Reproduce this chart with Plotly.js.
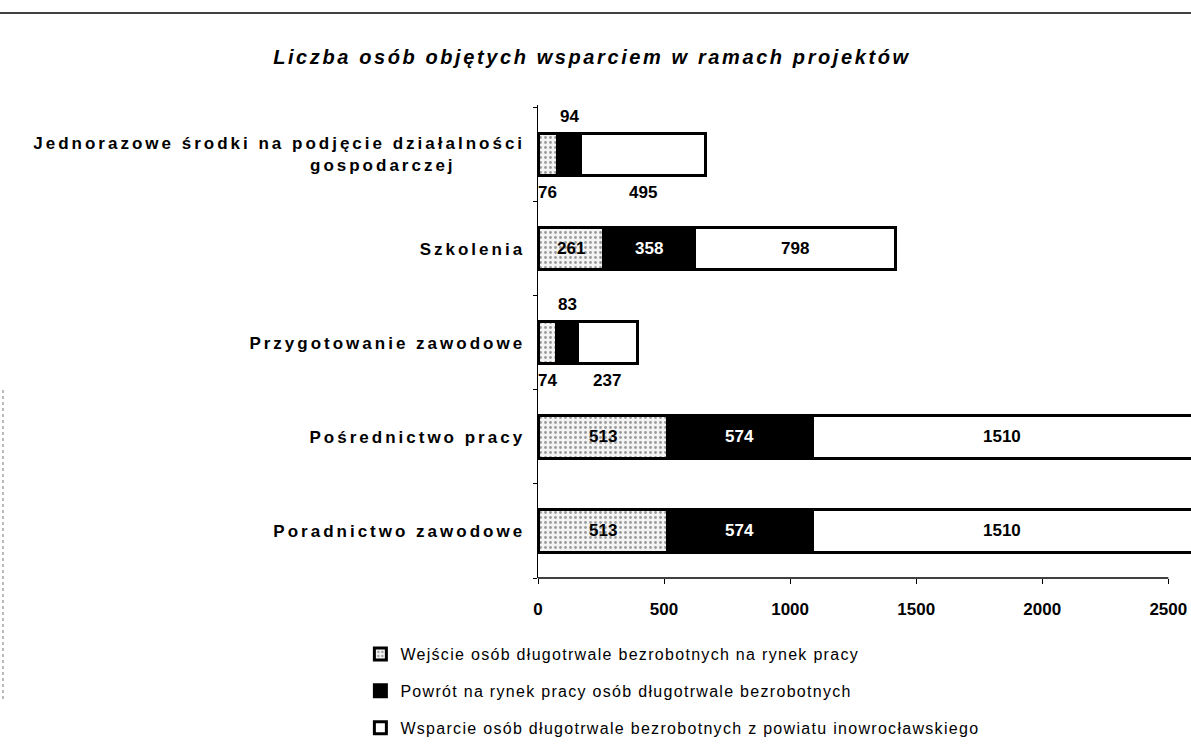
<!DOCTYPE html>
<html>
<head>
<meta charset="utf-8">
<script src="https://cdn.plot.ly/plotly-3.0.1.min.js"></script>
<style>
  html, body { margin: 0; padding: 0; background: #fff; }
  #chart { width: 1191px; height: 746px; }
  .ytick text { letter-spacing: 3px; }
  .legendtext { letter-spacing: 1.3px; }
  .gtitle { letter-spacing: 2.6px; }
</style>
</head>
<body>
<div id="chart"></div>
<script>
// ---- data ----
const categories = [
  'Jednorazowe środki na podjęcie działalności<br>gospodarczej',
  'Szkolenia',
  'Przygotowanie zawodowe',
  'Pośrednictwo pracy',
  'Poradnictwo zawodowe'
];
const seriesNames = [
  'Wejście osób długotrwale bezrobotnych na rynek pracy',
  'Powrót na rynek pracy osób długotrwale bezrobotnych',
  'Wsparcie osób długotrwale bezrobotnych z powiatu inowrocławskiego'
];
const wejscie = [76, 261, 74, 513, 513];
const powrot = [94, 358, 83, 574, 574];
const wsparcie = [495, 798, 237, 1510, 1510];
const xTicks = [0, 500, 1000, 1500, 2000, 2500];

// label placement per series/category (style, not data)
const placement = [
  ['below', 'in', 'below', 'in', 'in'],
  ['above', 'in', 'above', 'in', 'in'],
  ['below', 'in', 'below', 'in', 'in']
];

// displayed tick text: second line of the wrapped label is set in from the right, as in the original
const NB = '\u00a0';
const tickText = categories.map(c => c.replace('<br>gospodarczej', '<br>gospodarczej' + NB.repeat(9)));

const series = [wejscie, powrot, wsparcie];
const fillColors = ['#ffffff', '#000000', '#ffffff'];
const textColors = ['#000000', '#ffffff', '#000000'];
const FONT = 'Liberation Sans, Arial, sans-serif';

const traces = series.map((vals, i) => {
  const t = {
    type: 'bar',
    orientation: 'h',
    y: categories,
    x: vals,
    name: seriesNames[i],
    legendgroup: 'g' + i,
    marker: {
      color: fillColors[i],
      line: { color: '#000', width: 3 }
    },
    hoverinfo: 'x+name'
  };
  if (i === 0) {
    t.marker.pattern = { shape: '.', fgcolor: '#9a9a9a', bgcolor: '#f4f4f4', size: 5, solidity: 0.25 };
  }
  return t;
});

// data labels computed from the data
const annotations = [];
categories.forEach((cat, c) => {
  let start = 0;
  series.forEach((vals, s) => {
    const v = vals[c];
    const mid = start + v / 2;
    const p = placement[s][c];
    annotations.push({
      x: mid, y: cat, xref: 'x', yref: 'y',
      text: String(v), showarrow: false,
      yshift: p === 'above' ? 38 : (p === 'below' ? -38 : 0),
      font: { family: FONT, size: 17, weight: 'bold',
              color: p === 'in' ? textColors[s] : '#000' }
    });
    start += v;
  });
});

const layout = {
  width: 1191, height: 746,
  paper_bgcolor: '#fff', plot_bgcolor: '#fff',
  margin: { l: 538, r: 0, t: 105, b: 168, pad: 0 },
  title: {
    text: 'Liczba osób objętych wsparciem w ramach projektów',
    x: 0.497, xref: 'container', y: 1 - 57 / 746, yref: 'container', yanchor: 'middle',
    font: { family: FONT, size: 20, weight: 'bold', style: 'italic', color: '#000' }
  },
  barmode: 'stack',
  bargap: 0.55,
  showlegend: true,
  legend: {
    orientation: 'v', traceorder: 'grouped',
    x: -0.272, xanchor: 'left', y: -0.125, yanchor: 'top',
    font: { family: FONT, size: 16, color: '#000' },
    tracegroupgap: 13, itemwidth: 30,
    bgcolor: 'rgba(0,0,0,0)'
  },
  xaxis: {
    range: [0, 2590],
    tickvals: xTicks,
    ticktext: xTicks.map(String),
    ticks: 'outside', ticklen: 5, tickcolor: '#000', tickwidth: 1,
    ticklabelstandoff: 11,
    showgrid: false, zeroline: false, showline: false,
    tickfont: { family: FONT, size: 17, weight: 'bold', color: '#000' },
    fixedrange: true
  },
  yaxis: {
    type: 'category',
    autorange: 'reversed',
    tickmode: 'array',
    tickvals: categories,
    ticktext: tickText,
    showline: true, linecolor: '#000', linewidth: 1.5,
    ticks: 'outside', tickson: 'boundaries', ticklen: 4, tickcolor: '#000',
    showgrid: false, zeroline: false,
    ticklabelstandoff: 8,
    tickfont: { family: FONT, size: 17, weight: 'bold', color: '#000' },
    fixedrange: true
  },
  annotations: annotations,
  shapes: [
    // x axis line up to the last tick
    { type: 'line', xref: 'x', yref: 'paper', x0: 0, x1: xTicks[xTicks.length - 1], y0: 0, y1: 0,
      line: { color: '#000', width: 1.5 } },
    // scan border line at top
    { type: 'line', xref: 'paper', yref: 'paper', x0: -538 / 653, x1: 1, y0: (578 - 13) / 473, y1: (578 - 13) / 473,
      line: { color: '#000', width: 1.5 } },
    // dotted scan edge at left
    { type: 'line', xref: 'paper', yref: 'paper', x0: -535 / 653, x1: -535 / 653, y0: (578 - 390) / 473, y1: (578 - 700) / 473,
      line: { color: '#777', width: 1, dash: 'dot' } }
  ]
};

Plotly.newPlot('chart', traces, layout, { displayModeBar: false, staticPlot: true });
</script>
</body>
</html>
